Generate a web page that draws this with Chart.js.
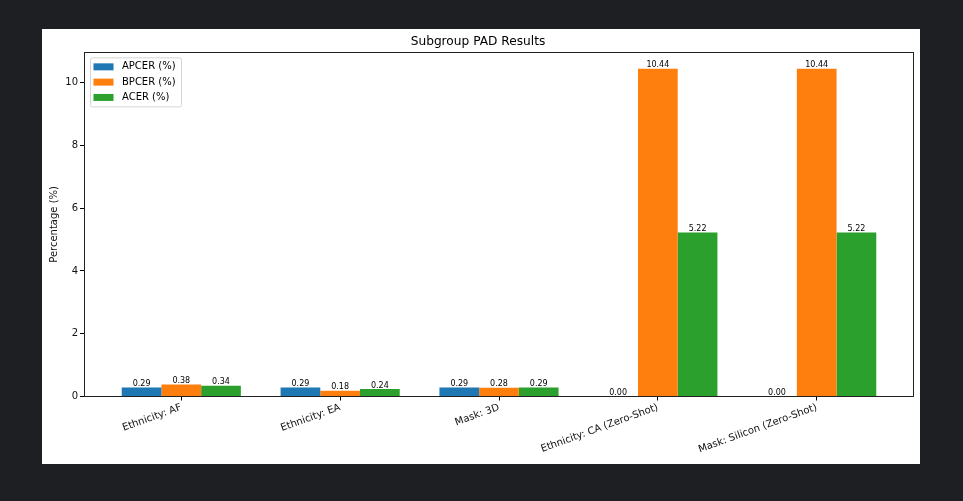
<!DOCTYPE html>
<html>
<head>
<meta charset="utf-8">
<script src="https://cdn.jsdelivr.net/npm/chart.js@4"></script>
<style>
body{margin:0;background:#1e1f22;width:963px;height:501px;overflow:hidden;}
#wrap{position:absolute;left:42px;top:29px;width:878px;height:435px;background:#fff;}
</style>
</head>
<body>
<div id="wrap"><canvas id="padChart" width="878" height="435"></canvas></div>
<script>
// data
const categories = ['Ethnicity: AF','Ethnicity: EA','Mask: 3D','Ethnicity: CA (Zero-Shot)','Mask: Silicon (Zero-Shot)'];
const apcer = [0.29,0.29,0.29,0.00,0.00];
const bpcer = [0.38,0.18,0.28,10.44,10.44];
const acer = [0.34,0.24,0.29,5.22,5.22];
const yTicks = [0,2,4,6,8,10];

const font = "'DejaVu Sans', sans-serif";

function pts(arr){
return arr.map((v,i)=>({x:i,y:v}));
}

// value labels above each bar
const valueLabels = {
id:'valueLabels',
afterDatasetsDraw(chart){
const c = chart.ctx;
c.save();
c.font = '8px ' + font;
c.fillStyle = '#000';
c.textAlign = 'center';
c.textBaseline = 'bottom';
chart.data.datasets.forEach((ds,di)=>{
chart.getDatasetMeta(di).data.forEach((bar,i)=>{
c.fillText(ds.data[i].y.toFixed(2), bar.x, bar.y + 0.5);
});
});
c.restore();
}
};

// frame + legend like matplotlib
const frameLegend = {
id:'frameLegend',
afterDraw(chart){
const c = chart.ctx;
const a = chart.chartArea;
c.save();
c.strokeStyle = '#222';
c.lineWidth = 1;
c.strokeRect(Math.round(a.left)+0.5, Math.round(a.top)+0.5, Math.round(a.right-a.left)-1, Math.round(a.bottom-a.top));

// legend box
const lx = a.left + 6, ly = a.top + 5, lw = 91, lh = 49;
c.fillStyle = 'rgba(255,255,255,0.8)';
c.strokeStyle = '#d5d5d5';
c.beginPath();
c.roundRect(lx+0.5, ly+0.5, lw, lh, 2);
c.fill();
c.stroke();
c.font = '10px ' + font;
c.textBaseline = 'middle';
c.textAlign = 'left';
chart.data.datasets.forEach((ds,i)=>{
const cy = ly + 9.5 + i*15.3;
c.fillStyle = ds.backgroundColor;
c.fillRect(lx + 3.5, cy - 3.5, 20, 7);
c.fillStyle = '#000';
c.fillText(ds.label, lx + 32, cy);
});
c.restore();
}
};

const ctx = document.getElementById('padChart');

new Chart(ctx, {
type:'bar',
data:{
datasets:[
{label:'APCER (%)', data:pts(apcer), backgroundColor:'#1f77b4'},
{label:'BPCER (%)', data:pts(bpcer), backgroundColor:'#ff7f0e'},
{label:'ACER (%)', data:pts(acer), backgroundColor:'#2ca02c'}
]
},
options:{
responsive:false,
animation:false,
layout:{padding:{left:0,right:6,top:0,bottom:0}},
datasets:{bar:{categoryPercentage:0.75, barPercentage:1, borderWidth:0}},
plugins:{
legend:{display:false},
tooltip:{enabled:false},
title:{display:true, text:'Subgroup PAD Results', color:'#000',
font:{family:font, size:12.2, weight:'normal'}, padding:{top:5.5,bottom:3.2}}
},
scales:{
x:{
type:'linear',
offset:false,
min:-0.6125, max:4.6125,
afterBuildTicks(s){ s.ticks = categories.map((_,i)=>({value:i})); },
afterFit(s){ s.height = 67.5; },
grid:{display:true, offset:false, drawOnChartArea:false, color:'#000', tickLength:4},
border:{display:false},
ticks:{
autoSkip:false, minRotation:20, maxRotation:20, padding:1, color:'#111',
font:{family:font, size:10},
callback:(v)=>categories[v]
}
},
y:{
min:0, max:10.962,
afterBuildTicks(s){ s.ticks = yTicks.map(v=>({value:v})); },
afterFit(s){ s.width = 42; },
grid:{display:true, drawOnChartArea:false, color:'#000', tickLength:4},
border:{display:false},
ticks:{color:'#111', padding:2, font:{family:font, size:10}, includeBounds:false},
title:{display:true, text:'Percentage (%)', color:'#111', font:{family:font, size:10}, padding:{top:6,bottom:0}}
}
}
},
plugins:[valueLabels, frameLegend]
});
</script>
</body>
</html>
